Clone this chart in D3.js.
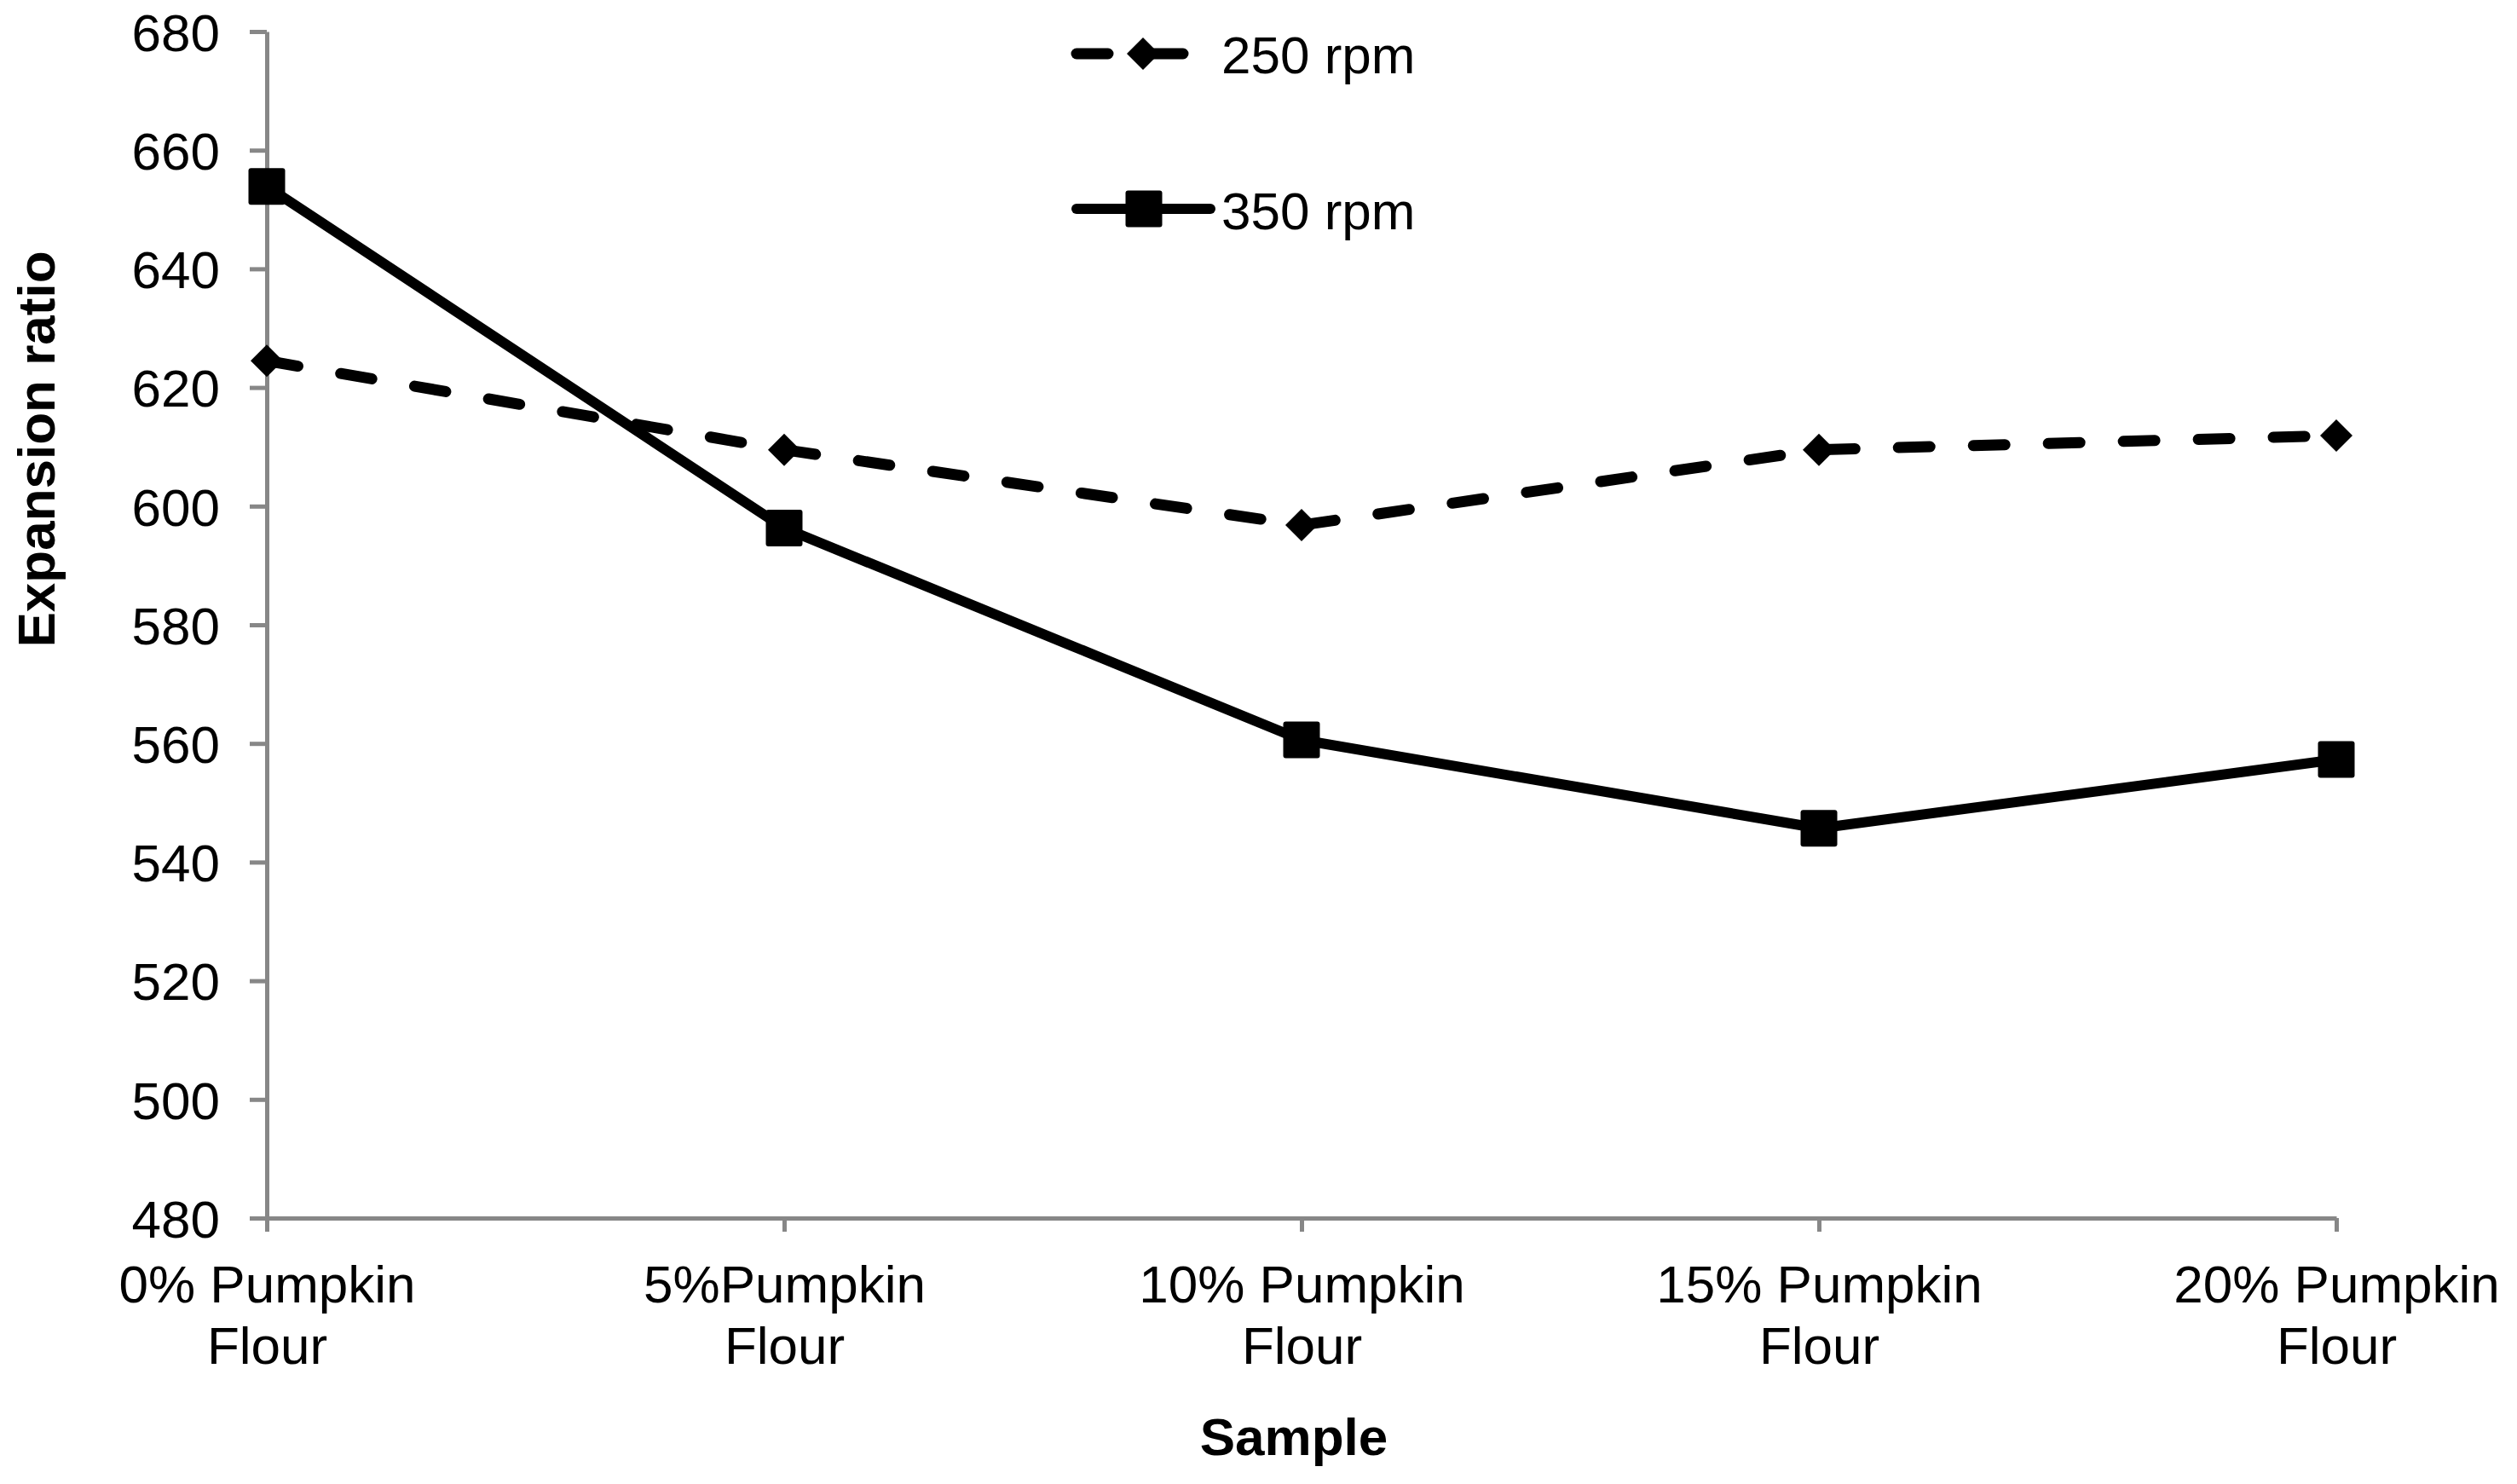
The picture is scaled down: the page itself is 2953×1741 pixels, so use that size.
<!DOCTYPE html>
<html>
<head>
<meta charset="utf-8">
<script src="https://cdn.jsdelivr.net/npm/d3@7"></script>
<style>
  html, body { margin: 0; padding: 0; background: #fff; }
  svg { display: block; font-family: "Liberation Sans", Arial, sans-serif; }
</style>
</head>
<body>
<svg id="chart" width="2953" height="1741"></svg>
<script>
// ---- data ----
const categories = ["0% Pumpkin Flour", "5%Pumpkin Flour", "10% Pumpkin Flour", "15% Pumpkin Flour", "20% Pumpkin Flour"];
const categoryLines = [["0% Pumpkin", "Flour"], ["5%Pumpkin", "Flour"], ["10% Pumpkin", "Flour"], ["15% Pumpkin", "Flour"], ["20% Pumpkin", "Flour"]];
const seriesNames = ["250 rpm", "350 rpm"];
const rpm250 = [624.5, 609.5, 596.8, 609.5, 611.9];
const rpm350 = [653.9, 596.3, 560.6, 545.7, 557.3];
const yTicks = [480, 500, 520, 540, 560, 580, 600, 620, 640, 660, 680];
const xTitle = "Sample";
const yTitle = "Expansion ratio";

(function () {
// ---- layout ----
const svg = d3.select("#chart");
const pLeft = 313, pRight = 2741, pTop = 37, pBottom = 1429;
const axisColor = "#878787";
const fontSize = 62;

const x = d3.scalePoint().domain(categories).range([pLeft, pRight]).padding(0);
const y = d3.scaleLinear().domain([480, 680]).range([pBottom, pTop]);

// y axis
const gy = svg.append("g").attr("transform", `translate(${pLeft},0)`)
  .call(d3.axisLeft(y).tickValues(yTicks).tickSize(20).tickSizeOuter(0).tickPadding(35).tickFormat(d3.format("d")));
gy.select(".domain").attr("stroke", axisColor).attr("stroke-width", 5);
gy.selectAll(".tick line").attr("stroke", axisColor).attr("stroke-width", 5);
gy.selectAll(".tick text").attr("fill", "#000").attr("font-size", fontSize)
  .attr("font-family", "Liberation Sans, Arial, sans-serif").attr("dy", "0.36em");

// x axis
const gx = svg.append("g").attr("transform", `translate(0,${pBottom})`)
  .call(d3.axisBottom(x).tickSize(16).tickSizeOuter(0).tickFormat(""));
gx.select(".domain").attr("stroke", axisColor).attr("stroke-width", 5);
gx.selectAll(".tick line").attr("stroke", axisColor).attr("stroke-width", 5);
gx.selectAll(".tick text").remove();
gx.selectAll(".tick").each(function(d, i) {
  const t = d3.select(this).append("text")
    .attr("fill", "#000").attr("font-size", fontSize)
    .attr("font-family", "Liberation Sans, Arial, sans-serif")
    .attr("text-anchor", "middle");
  categoryLines[i].forEach((ln, k) => {
    t.append("tspan").attr("x", 0).attr("y", 99 + k * 72).text(ln);
  });
});

// axis titles
svg.append("text").attr("x", 1518).attr("y", 1707)
  .attr("text-anchor", "middle").attr("font-size", fontSize).attr("font-weight", "bold")
  .attr("fill", "#000").text(xTitle);
svg.append("text").attr("transform", "translate(64,527) rotate(-90)")
  .attr("text-anchor", "middle").attr("font-size", fontSize).attr("font-weight", "bold")
  .attr("fill", "#000").text(yTitle);

// lines
const line = d3.line().x((d, i) => x(categories[i])).y(d => y(d));
const dash = "37,51";

svg.append("path").datum(rpm250).attr("d", line)
  .attr("fill", "none").attr("stroke", "#000").attr("stroke-width", 13)
  .attr("stroke-dasharray", dash).attr("stroke-linecap", "round").attr("stroke-linejoin", "round");
svg.append("path").datum(rpm350).attr("d", line)
  .attr("fill", "none").attr("stroke", "#000").attr("stroke-width", 12)
  .attr("stroke-linejoin", "round");

// markers
const diamond = (cx, cy, r) => `M${cx},${cy - r}L${cx + r},${cy}L${cx},${cy + r}L${cx - r},${cy}Z`;
svg.append("g").selectAll("path").data(rpm250).join("path")
  .attr("d", (d, i) => diamond(x(categories[i]), y(d), 19))
  .attr("fill", "#000");
const sq = 43;
svg.append("g").selectAll("rect").data(rpm350).join("rect")
  .attr("x", (d, i) => x(categories[i]) - sq / 2).attr("y", d => y(d) - sq / 2)
  .attr("width", sq).attr("height", sq).attr("rx", 3).attr("fill", "#000");

// legend
const lg = svg.append("g");
const legendRows = [
  { name: seriesNames[0], y: 63, textY: 86, dashed: true, x1: 1263, x2: 1403, mx: 1341 },
  { name: seriesNames[1], y: 245, textY: 269, dashed: false, x1: 1263, x2: 1420, mx: 1342 }
];
legendRows.forEach(r => {
  const l = lg.append("line").attr("x1", r.x1).attr("x2", r.x2).attr("y1", r.y).attr("y2", r.y)
    .attr("stroke", "#000").attr("stroke-width", r.dashed ? 13 : 12).attr("stroke-linecap", "round");
  if (r.dashed) {
    l.attr("stroke-dasharray", dash);
    lg.append("path").attr("d", diamond(r.mx, r.y, 19)).attr("fill", "#000");
  } else {
    lg.append("rect").attr("x", r.mx - sq / 2).attr("y", r.y - sq / 2).attr("width", sq).attr("height", sq)
      .attr("rx", 3).attr("fill", "#000");
  }
  lg.append("text").attr("x", 1433).attr("y", r.textY).attr("font-size", fontSize)
    .attr("fill", "#000").text(r.name);
});
})();
</script>
</body>
</html>
